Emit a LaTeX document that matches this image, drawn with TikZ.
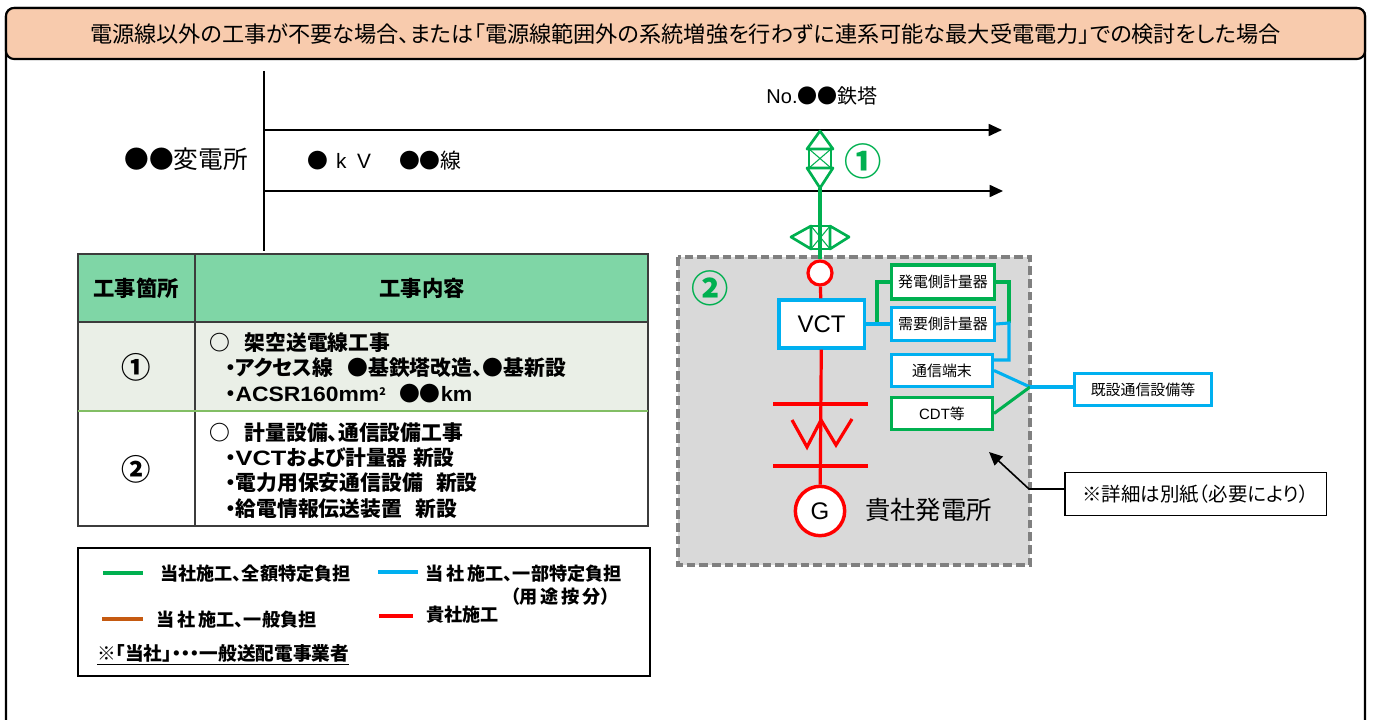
\documentclass[tikz,border=0pt]{standalone}
\usepackage{fontspec}
\setmainfont[RawFeature=+palt]{Noto Sans CJK JP}
\newfontfamily\latinfont{Liberation Sans}
\newcommand{\widelatin}[2][1.22]{\scalebox{#1}[1]{\latinfont\bfseries #2}}
\usetikzlibrary{arrows.meta}
\definecolor{titlefill}{RGB}{248, 203, 173}
\definecolor{headfill}{RGB}{127, 214, 166}
\definecolor{rowfill}{RGB}{234, 239, 231}
\definecolor{rowline}{RGB}{130, 190, 100}
\definecolor{tablegray}{RGB}{60, 60, 60}
\definecolor{areafill}{RGB}{217, 217, 217}
\definecolor{arealine}{RGB}{128, 128, 128}
\definecolor{ourgreen}{RGB}{0, 176, 80}
\definecolor{ourblue}{RGB}{0, 176, 240}
\definecolor{ourbrown}{RGB}{197, 90, 17}
\tikzset{
    txt/.style={inner sep=0pt, font=\fontsize{#1}{#1}\selectfont},
    txtl/.style={txt=#1, anchor=west},
    boldl/.style={inner sep=0pt, anchor=west, font=\fontsize{#1}{#1}\selectfont\bfseries},
    boxgreen/.style={draw=ourgreen, line width=2.5pt, fill=white, inner sep=0pt, txt=11.2, minimum width=#1},
    boxblue/.style={draw=ourblue, line width=2.5pt, fill=white, inner sep=0pt, txt=11.2, minimum width=#1},
    wiregreen/.style={draw=ourgreen, line width=2.3pt},
    wireblue/.style={draw=ourblue, line width=2.3pt},
    wirered/.style={draw=red, line width=2.4pt},
    legendline/.style={line width=3.2pt}
}
\begin{document}
\begin{tikzpicture}[x=0.75pt, y=-0.75pt]
    \useasboundingbox (0,0) rectangle (1373,720);
    \clip (0,0) rectangle (1373,720);

    % Frame and title
    \draw[line width=1.6pt, rounded corners=6pt] (6,740) -- (6,8) -- (1365,8) -- (1365,740);
    \path[fill=titlefill, draw=black, line width=1.6pt, rounded corners=6pt] (6,59) -- (6,8) -- (1365,8) -- (1365,59) -- cycle;
    \node[txt=16.64] (title) at (685.5,34) {電源線以外の工事が不要な場合、または「電源線範囲外の系統増強を行わずに連系可能な最大受電電力」での検討をした場合};

    % Substation and lines
    \node[txt=18.5] (station) at (186,159) {●●変電所};
    \node[txtl=15.6] (linename) at (307,161) {●\hspace{6pt}{\latinfont k}\hspace{8pt}{\latinfont V}\hspace{21pt}●●線};
    \node[txt=15] (towername) at (822,96) {{\latinfont No.}●●鉄塔};
    \coordinate (bustop) at (264,71);
    \coordinate (busbottom) at (264,251);
    \coordinate (line1a) at (264,130);
    \coordinate (line1b) at (1002,130);
    \coordinate (line2a) at (264,191);
    \coordinate (line2b) at (1003,191);
    \draw[line width=2.2pt] (bustop) -- (busbottom);
    \draw[line width=1.3pt, -{Triangle[length=10pt, width=9pt]}] (line1a) -- (line1b);
    \draw[line width=1.3pt, -{Triangle[length=10pt, width=9pt]}] (line2a) -- (line2b);

    % Area of the power station
    \draw[draw=arealine, fill=areafill, line width=2.6pt, dash pattern=on 6.5pt off 3pt] (678,257) rectangle (1030,565);
    \node[txt=28, text=ourgreen, font=\fontsize{28}{28}\selectfont\bfseries] (mark2) at (710,288) {②};

    % Tower symbols
    \coordinate (towertop) at (820,131);
    \coordinate (towerlow) at (820,188);
    \draw[wiregreen, line width=2pt, line join=round] (towertop) -- (833,149) -- (807,149) -- cycle;
    \draw[wiregreen, line width=2pt, line join=round] (807,168) -- (833,168) -- (towerlow) -- cycle;
    \draw[wiregreen, line width=2pt] (809,149) rectangle (831,168);
    \draw[ourgreen, line width=0.8pt] (809,149) -- (831,168) (831,149) -- (809,168);
    \coordinate (gantryleft) at (791,237);
    \coordinate (gantryright) at (849,237);
    \draw[wiregreen, line width=2pt, line join=round] (gantryleft) -- (811,226) -- (811,249) -- cycle;
    \draw[wiregreen, line width=2pt, line join=round] (gantryright) -- (830,226) -- (830,249) -- cycle;
    \draw[wiregreen, line width=2pt] (811,226) rectangle (830,249);
    \draw[ourgreen, line width=0.8pt] (811,226) -- (830,249) (830,226) -- (811,249);
    \node[txt=28, text=ourgreen, font=\fontsize{28}{28}\selectfont\bfseries] (mark1) at (863,161) {①};

    % Station circuit
    \node[circle, draw=red, line width=2.4pt, fill=white, minimum size=18pt, inner sep=0pt] (breaker) at (820,273) {};
    \node[boxblue=64pt, minimum height=36pt, txt=18] (vct) at (821.5,324) {\latinfont VCT};
    \node[circle, draw=red, line width=2.6pt, fill=white, minimum size=37pt, inner sep=0pt, txt=18] (gen) at (820,511) {\latinfont G};
    \node[txtl=19] (stationname) at (865,510) {貴社発電所};
    \draw[wiregreen] (towerlow) -- (breaker);
    \draw[wirered] (breaker) -- (vct);
    \draw[wirered] (vct) -- (gen);
    \coordinate (bar1a) at (773,404);
    \coordinate (bar1b) at (868,404);
    \coordinate (bar2a) at (773,466);
    \coordinate (bar2b) at (868,466);
    \draw[wirered] (bar1a) -- (bar1b);
    \draw[wirered] (bar2a) -- (bar2b);
    \draw[wirered] (792,420) -- (807,447) -- (821,420) -- (836,445) -- (852,419);

    % Meters and communication
    \node[boxgreen=77pt, minimum height=25.5pt] (meter1) at (943,282) {発電側計量器};
    \node[boxblue=77pt, minimum height=25pt] (meter2) at (943,324) {需要側計量器};
    \node[boxblue=75.5pt, minimum height=24pt] (comm) at (942,370.5) {通信端末};
    \node[boxgreen=75.5pt, minimum height=24pt] (cdt) at (942,413.5) {{\latinfont CDT}等};
    \node[boxblue=103pt, minimum height=24pt] (existing) at (1143,389.5) {既設通信設備等};
    \coordinate (joinleft) at (877,324);
    \coordinate (joinright) at (1009,323);
    \coordinate (joinout) at (1030,387);
    \coordinate (commtop) at (994,360);
    \draw[wiregreen] (joinleft) |- (meter1.west);
    \draw[wiregreen] (meter1.east) -| (joinright);
    \draw[wireblue] (vct.east) -- (meter2.west);
    \draw[wireblue] (meter2.east) -- (joinright) |- (commtop);
    \draw[wireblue] (comm.east) -- (joinout);
    \draw[wiregreen] (cdt.east) -- (joinout);
    \draw[wireblue] (joinout) -- (existing.west |- joinout);

    % Note
    \node[draw=black, line width=1pt, fill=white, minimum width=196pt, minimum height=32pt, inner sep=0pt, txt=14.6] (note) at (1195.5,494) {※詳細は別紙（必要により）};
    \coordinate (notebend) at (1029,489);
    \coordinate (notetip) at (989,452);
    \draw[line width=1.2pt, -{Triangle[length=10pt, width=9pt]}] (note.west |- notebend) -- (notebend) -- (notetip);

    % Table
    \path[fill=headfill] (78,254) rectangle (648,322);
    \path[fill=rowfill] (78,322) rectangle (648,411);
    \path[fill=white] (78,411) rectangle (648,526);
    \draw[tablegray, line width=1.4pt] (78,254) rectangle (648,526);
    \draw[tablegray, line width=1.4pt] (195,254) -- (195,526);
    \draw[tablegray, line width=1pt] (78,322) -- (648,322);
    \draw[rowline, line width=1pt] (78,411) -- (648,411);
    \node[txt=16, font=\fontsize{16}{16}\selectfont\bfseries] (headplace) at (136,288) {工事箇所};
    \node[txt=16, font=\fontsize{16}{16}\selectfont\bfseries] (headwork) at (422,288) {工事内容};
    \node[txt=22, font=\fontsize{22}{22}\selectfont\bfseries] (row1) at (136,367) {①};
    \node[txt=22, font=\fontsize{22}{22}\selectfont\bfseries] (row2) at (136,469) {②};
    \node[boldl=15.6] (work11) at (209,343) {○\hspace{11pt}架空送電線工事};
    \node[boldl=15.6] (work12) at (225,368) {・アクセス線\hspace{11pt}●基鉄塔改造、●基新設};
    \node[boldl=15.6] (work13) at (225,394) {・\widelatin[1.1]{ACSR160mm}\raisebox{5pt}{\fontsize{8}{8}\selectfont 2}\hspace{10pt}●●\widelatin[1.05]{km}};
    \node[boldl=15.6] (work21) at (209,433) {○\hspace{11pt}計量設備、通信設備工事};
    \node[boldl=15.6] (work22) at (225,458) {・\widelatin{VCT}および計量器\hspace{4pt}新設};
    \node[boldl=15.6] (work23) at (225,483) {・電力用保安通信設備\hspace{10pt}新設};
    \node[boldl=15.6] (work24) at (225,509) {・給電情報伝送装置\hspace{10pt}新設};

    % Legend
    \draw[line width=1.2pt] (78,548) rectangle (650,676);
    \coordinate (leg1a) at (103,573);
    \coordinate (leg1b) at (143,573);
    \coordinate (leg2a) at (378,572);
    \coordinate (leg2b) at (418,572);
    \coordinate (leg3a) at (102,619);
    \coordinate (leg3b) at (143,619);
    \coordinate (leg4a) at (379,616);
    \coordinate (leg4b) at (413,616);
    \draw[legendline, ourgreen] (leg1a) -- (leg1b);
    \draw[legendline, ourblue] (leg2a) -- (leg2b);
    \draw[legendline, ourbrown] (leg3a) -- (leg3b);
    \draw[legendline, red] (leg4a) -- (leg4b);
    \node[boldl=13.6] (legtext1) at (160,574) {当社施工、全額特定負担};
    \node[boldl=13.6] (legtext2) at (425,574) {当\,社\,施工、一部特定負担};
    \node[boldl=13.6] (legtext2b) at (510,597) {（用\,途\,按\,分）};
    \node[boldl=13.6] (legtext3) at (156,620) {当\,社\,施工、一般負担};
    \node[boldl=13.6] (legtext4) at (426,615) {貴社施工};
    \node[boldl=14] (legnote) at (97,655) {\underline{※「当社」・・・一般送配電事業者}};
\end{tikzpicture}
\end{document}
